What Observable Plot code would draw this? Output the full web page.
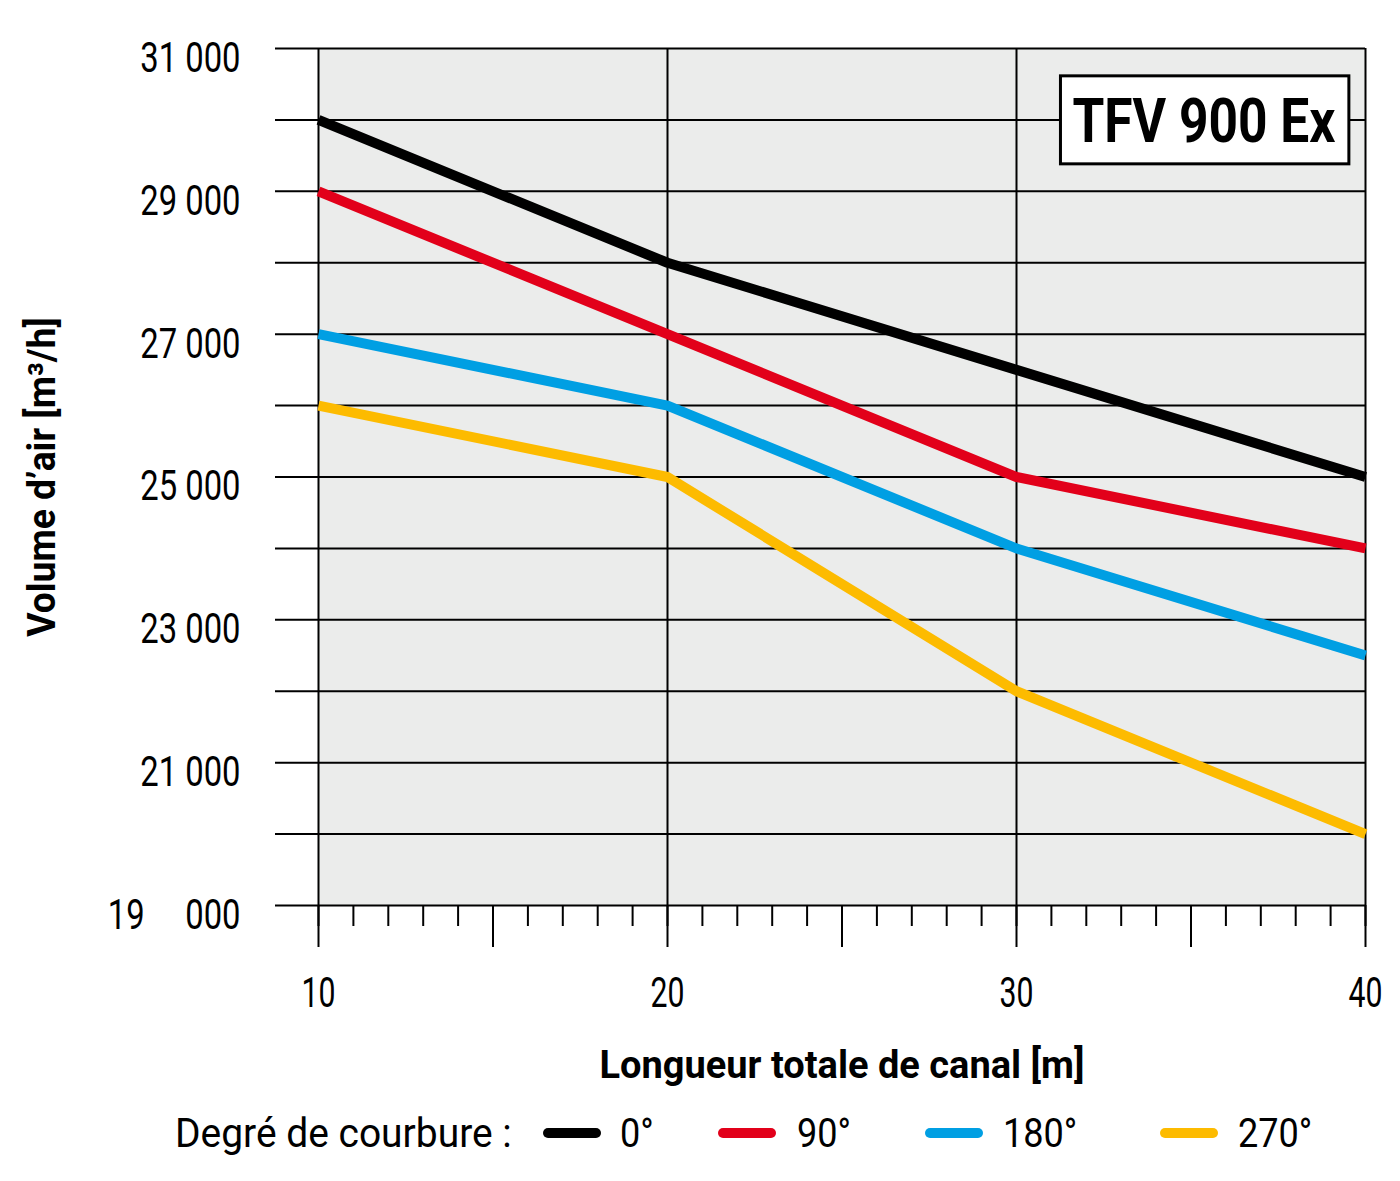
<!DOCTYPE html>
<html>
<head>
<meta charset="utf-8">
<script src="https://cdn.jsdelivr.net/npm/d3@7"></script>
<script src="https://cdn.jsdelivr.net/npm/@observablehq/plot@0.6"></script>
<style>
  html, body { margin: 0; padding: 0; background: #fff; }
  body { width: 1400px; height: 1181px; overflow: hidden; font-family: Roboto, "Liberation Sans", sans-serif; }
  #legend { position: relative; height: 76px; font-size: 41px; color: #000; }
  #legend .t { position: absolute; top: 50%; transform-origin: 0 50%; white-space: nowrap; line-height: 1; }
  #legend svg { position: absolute; top: 50%; margin-top: -7px; }
</style>
</head>
<body>
<div id="chart"></div>
<div id="legend"></div>
<script>
// ---- data ----
const lengths = [10, 20, 30, 40];
const angle0 = [30000, 28000, 26500, 25000];
const angle90 = [29000, 27000, 25000, 24000];
const angle180 = [27000, 26000, 24000, 22500];
const angle270 = [26000, 25000, 22000, 20000];
const seriesNames = ["0°", "90°", "180°", "270°"];
const seriesColors = ["#000000", "#e2001a", "#009fe3", "#fdbb00"];
const yTickValues = [31000, 29000, 27000, 25000, 23000, 21000, 19000];
const yTickLabels = ["31 000", "29 000", "27 000", "25 000", "23 000", "21 000", "19\u00a0\u00a0\u00a0\u00a0\u00a0000"];
const xTickValues = [10, 20, 30, 40];
const xMidTicks = [15, 25, 35];
const title = "TFV 900 Ex";
const xLabel = "Longueur totale de canal [m]";
const yLabel = "Volume d’air [m³/h]";
const legendTitle = "Degré de courbure :";

const allSeries = [angle0, angle90, angle180, angle270];
const rows = [];
allSeries.forEach((vals, s) => vals.forEach((v, i) => rows.push({length: lengths[i], volume: v, series: seriesNames[s]})));

const font = "Roboto, 'Liberation Sans', sans-serif";
const yGrid = d3.range(19000, 31001, 1000);
const xMinor = d3.range(10, 41, 1);

const plot = Plot.plot({
  width: 1400,
  height: 1095,
  marginLeft: 318,
  marginRight: 35,
  marginTop: 48,
  marginBottom: 190,
  style: {fontFamily: font, background: "transparent", color: "#000"},
  x: {domain: [10, 40]},
  y: {domain: [19000, 31000]},
  color: {domain: seriesNames, range: seriesColors},
  marks: [
    Plot.frame({fill: "#ebeceb", stroke: null}),
    Plot.gridY(yGrid, {stroke: "#000", strokeOpacity: 1, strokeWidth: 2}),
    Plot.gridX(xTickValues, {stroke: "#000", strokeOpacity: 1, strokeWidth: 2}),
    Plot.axisY(yGrid, {tickSize: 43, strokeWidth: 2, tickFormat: () => "", label: null}),
    Plot.axisY(yTickValues, {tickSize: 0, tickPadding: 78, fontSize: 42, dy: 10, tickFormat: d => yTickLabels[yTickValues.indexOf(d)], label: null, className: "sq-ytick"}),
    Plot.axisX(xMinor, {tickSize: 21, strokeWidth: 2, tickFormat: () => "", label: null}),
    Plot.axisX(xMidTicks.concat(xTickValues), {tickSize: 42, strokeWidth: 2, tickFormat: () => "", label: null}),
    Plot.axisX(xTickValues, {tickSize: 0, tickPadding: 72, fontSize: 42, label: null, className: "sq-xtick"}),
    Plot.line(rows, {x: "length", y: "volume", z: "series", stroke: "series", strokeWidth: 10, strokeLinecap: "butt", strokeLinejoin: "round"}),
    Plot.text([title], {frameAnchor: "top-right", dx: -30, dy: 74, lineAnchor: "middle", textAnchor: "end", fontSize: 62, fontWeight: "bold", className: "tfv-title"}),
    Plot.text([xLabel], {frameAnchor: "bottom", dy: 160, lineAnchor: "middle", textAnchor: "middle", fontSize: 38, fontWeight: "bold", className: "sq-xlabel"}),
    Plot.text([yLabel], {frameAnchor: "left", dx: -276, rotate: -90, lineAnchor: "middle", textAnchor: "middle", fontSize: 38, fontWeight: "bold", className: "sq-ylabel"})
  ]
});
document.getElementById("chart").appendChild(plot);

// condensed look: squeeze glyphs horizontally
function squeeze(sel, factor) {
  plot.querySelectorAll(sel + " text").forEach(t => {
    const len = t.getComputedTextLength();
    if (len > 0) {
      t.setAttribute("textLength", len * factor);
      t.setAttribute("lengthAdjust", "spacingAndGlyphs");
    }
  });
}
squeeze(".sq-ytick", 0.78);
squeeze(".sq-xtick", 0.72);
squeeze(".tfv-title", 0.83);
squeeze(".sq-xlabel", 1.0);
squeeze(".sq-ylabel", 0.98);

// white box behind the title
const t = plot.querySelector(".tfv-title text");
if (t) {
  const bb = t.getBBox();
  const ns = "http://www.w3.org/2000/svg";
  const r = document.createElementNS(ns, "rect");
  const tr = t.getAttribute("transform");
  r.setAttribute("x", bb.x - 12);
  r.setAttribute("y", bb.y + bb.height / 2 - 45);
  r.setAttribute("width", bb.width + 25);
  r.setAttribute("height", 88);
  r.setAttribute("fill", "#fff");
  r.setAttribute("stroke", "#000");
  r.setAttribute("stroke-width", 3);
  if (tr) r.setAttribute("transform", tr);
  t.parentNode.insertBefore(r, t);
}

// legend
const legend = document.getElementById("legend");
const legendTextLeft = [620, 797, 1003, 1238];
const legendSwatchLeft = [543, 718, 925, 1160];
function addText(txt, left, sx) {
  const d = document.createElement("div");
  d.className = "t";
  d.textContent = txt;
  d.style.left = left + "px";
  d.style.transform = `translateY(-50%) scaleX(${sx})`;
  legend.appendChild(d);
}
addText(legendTitle, 175, 0.95);
seriesNames.forEach((name, i) => {
  const s = document.createElementNS("http://www.w3.org/2000/svg", "svg");
  s.setAttribute("width", 58);
  s.setAttribute("height", 14);
  s.style.left = legendSwatchLeft[i] + "px";
  s.innerHTML = `<line x1="5" y1="7" x2="53" y2="7" stroke="${seriesColors[i]}" stroke-width="10" stroke-linecap="round"/>`;
  legend.appendChild(s);
  addText(name, legendTextLeft[i], 0.88);
});
</script>
</body>
</html>
